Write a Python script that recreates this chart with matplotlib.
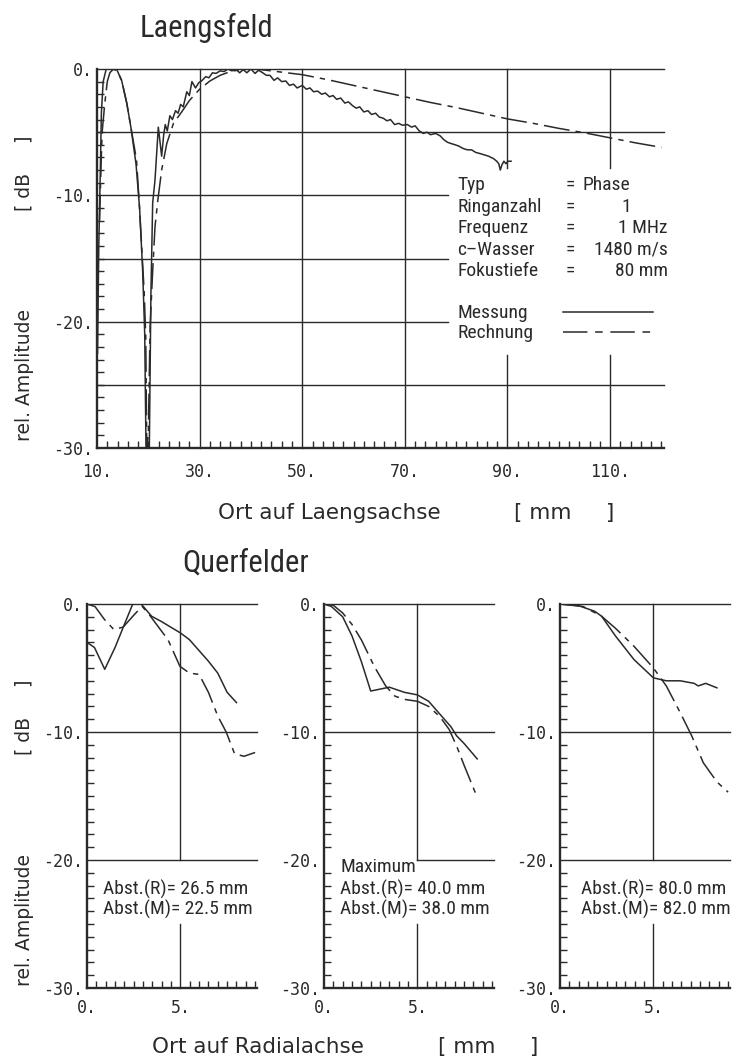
import matplotlib
matplotlib.use("Agg")
import matplotlib.pyplot as plt
from matplotlib import font_manager as fm
from matplotlib.font_manager import FontProperties
from matplotlib.ticker import FixedLocator, MultipleLocator
from matplotlib.lines import Line2D

_names = {f.name for f in fm.fontManager.ttflist}


def _is_regular(f):
    w = f.weight
    try:
        w = int(w)
    except (TypeError, ValueError):
        w = 400 if str(w).lower() in ("normal", "regular", "book") else 700
    return f.style == "normal" and 350 <= w <= 450


def find_narrow():
    prefs = ["Liberation Sans Narrow", "DejaVu Sans Condensed", "Roboto Condensed",
             "Open Sans Condensed", "Noto Sans Condensed"]
    cands = []
    for f in fm.fontManager.ttflist:
        cond = ("Narrow" in f.name or "Condensed" in f.name or
                str(f.stretch) in ("condensed", "semi-condensed", "extra-condensed", "ultra-condensed"))
        if cond and _is_regular(f):
            cands.append(f)
    for p in prefs:
        for f in cands:
            if f.name == p or p in f.fname.replace("-", " "):
                return f.fname
    if cands:
        return cands[0].fname
    return None


_narrow_path = find_narrow()


def NFP(size):
    if _narrow_path:
        return FontProperties(fname=_narrow_path, size=size)
    fam = "Liberation Sans" if "Liberation Sans" in _names else "DejaVu Sans"
    return FontProperties(family=fam, size=size * 0.88)


MONO = "DejaVu Sans Mono"
SANS = "DejaVu Sans"
INK = "#2a2a2a"

# ---------------- data: Laengsfeld (axial field) ----------------
laengs_mess_x = [10.1, 10.35, 10.65, 10.85, 11.2, 11.8, 12.5, 13.8, 14.8, 15.8, 16.6, 17.6, 18.3,
                 18.9, 19.3, 19.55, 20.2, 20.5, 20.85, 21.3, 21.95, 22.6, 23.0, 23.3, 23.7, 24.2,
                 24.7, 25.3, 25.8, 26.3, 26.8, 27.5, 28.0, 28.5, 29.2, 29.8, 30.5, 31.2, 31.8,
                 32.5, 33.2, 34.0, 34.8, 35.5, 36.3, 37.0, 37.8, 38.5, 39.2, 40.0, 40.8, 41.5,
                 42.3, 43.0, 43.7, 44.5, 45.2, 46.0, 46.8, 47.5, 48.3, 49.0, 50.0, 50.8, 51.5,
                 52.2, 53.0, 53.8, 54.5, 55.3, 56.0, 56.7, 57.5, 58.3, 59.0, 59.8, 60.5, 61.2,
                 62.0, 62.8, 63.5, 64.3, 65.0, 65.8, 66.5, 67.2, 68.0, 68.8, 69.5, 70.5, 71.3,
                 72.0, 72.8, 73.6, 74.3, 75.0, 76.0, 76.9, 77.6, 78.3, 79.0, 79.8, 80.5, 81.4,
                 82.2, 83.0, 83.8, 84.7, 85.5, 86.3, 87.3, 87.9, 88.3, 88.6, 88.9, 89.3, 89.7,
                 90.1, 90.7]
laengs_mess_db = [-22.5, -14.0, -8.0, -3.5, -1.0, 0.0, 0.0, 0.0, -0.9, -2.7, -4.6, -7.5, -11.0,
                  -16.0, -21.0, -30.0, -30.0, -18.0, -10.6, -8.8, -4.6, -6.9, -5.2, -4.4, -4.9, -3.7,
                  -4.0, -3.3, -3.5, -2.8, -3.0, -1.8, -2.1, -1.0, -1.5, -1.1, -0.9, -0.6, -0.7,
                  -0.3, -0.35, -0.15, -0.2, 0.0, -0.15, 0.0, -0.3, -0.05, -0.3, 0.0, -0.35, -0.1,
                  -0.3, -0.5, -0.5, -0.9, -0.7, -1.0, -0.95, -1.3, -1.2, -1.5, -1.3, -1.6, -1.5,
                  -1.8, -1.75, -2.0, -1.9, -2.2, -2.1, -2.4, -2.3, -2.7, -2.6, -2.9, -3.1, -3.0,
                  -3.4, -3.3, -3.6, -3.5, -3.8, -3.9, -4.1, -4.0, -4.4, -4.3, -4.45, -4.4, -4.6,
                  -4.5, -4.9, -5.1, -5.0, -5.2, -5.1, -5.3, -5.6, -5.8, -5.9, -6.0, -6.1, -6.3,
                  -6.4, -6.4, -6.6, -6.7, -6.8, -6.9, -7.1, -7.3, -7.5, -8.0, -7.6, -7.3, -7.5,
                  -7.3, -7.3]

laengs_rech_x = [10.5, 10.8, 11.0, 11.5, 12.0, 12.5, 13.2, 14.0, 14.8, 15.8, 16.6, 17.7, 18.2,
                 18.7, 19.2, 19.5, 19.7, 20.0, 20.35, 20.8, 21.3, 21.85, 22.6, 23.6, 24.9, 26.5,
                 28.0, 30.0, 32.0, 34.0, 36.0, 38.0, 40.0, 42.0, 44.0, 46.0, 48.0, 50.0, 55.0,
                 60.0, 65.0, 70.0, 75.0, 80.0, 85.0, 90.0, 95.0, 100.0, 105.0, 110.0, 115.0, 120.0]
laengs_rech_db = [-12.0, -7.5, -5.0, -2.8, -1.0, -0.3, 0.0, -0.2, -0.9, -2.7, -4.6, -7.2, -10.4,
                  -14.0, -17.7, -21.2, -30.0, -29.0, -20.4, -16.4, -12.5, -10.4, -8.0, -5.9, -4.3, -3.4,
                  -2.5, -1.6, -0.95, -0.5, -0.2, -0.05, 0.0, -0.05, -0.15, -0.25, -0.35, -0.45, -0.85,
                  -1.3, -1.75, -2.2, -2.65, -3.05, -3.5, -3.95, -4.3, -4.7, -5.05, -5.45, -5.85, -6.2]

laengs_xticks = [10, 30, 50, 70, 90, 110]
laengs_xticklabels = ["10.", "30.", "50.", "70.", "90.", "110."]
db_ticks = [0, -10, -20, -30]
db_ticklabels = ["0.", "-10.", "-20.", "-30."]

# ---------------- data: Querfelder (radial fields) ----------------
q1_mess_x = [0.0, 0.4, 0.95, 1.5, 2.0, 2.45, 2.9, 3.46, 3.96, 5.0, 5.48, 6.5, 7.0, 7.5, 8.0]
q1_mess_db = [-3.0, -3.4, -5.1, -3.4, -1.6, 0.0, 0.0, -0.96, -1.35, -2.26, -2.78, -4.47, -5.4, -6.9, -7.7]
q1_rech_x = [0.0, 0.43, 0.93, 1.44, 1.94, 2.45, 2.95, 3.33, 4.34, 4.97, 5.48, 6.0, 6.5, 7.0, 7.45, 7.9, 8.4, 9.0]
q1_rech_db = [0.0, -0.2, -1.2, -2.0, -1.8, -0.96, -0.18, -0.83, -2.8, -4.86, -5.4, -5.5, -6.9, -8.75, -10.0, -11.7, -11.9, -11.6]

q2_mess_x = [0.0, 0.4, 1.0, 1.5, 2.0, 2.5, 3.5, 4.3, 5.0, 5.6, 6.2, 6.8, 7.1, 7.5, 8.2]
q2_mess_db = [0.0, -0.2, -1.0, -2.5, -4.5, -6.8, -6.5, -6.9, -7.1, -7.6, -8.6, -9.6, -10.3, -10.9, -12.1]
q2_rech_x = [0.0, 0.5, 1.0, 1.5, 2.0, 2.7, 3.3, 3.8, 4.3, 5.0, 5.6, 6.2, 6.7, 7.1, 7.5, 8.2]
q2_rech_db = [0.0, -0.1, -0.7, -1.6, -2.8, -4.9, -6.4, -7.2, -7.45, -7.6, -8.0, -8.8, -9.8, -11.1, -12.6, -15.1]

q3_mess_x = [0.0, 1.0, 1.86, 2.23, 2.97, 3.96, 5.0, 5.69, 6.44, 7.18, 7.4, 7.8, 8.4]
q3_mess_db = [0.0, -0.13, -0.57, -0.96, -2.5, -4.34, -5.77, -6.0, -6.0, -6.2, -6.4, -6.2, -6.55]
q3_rech_x = [0.0, 1.24, 2.23, 2.97, 3.96, 5.0, 5.69, 6.44, 7.05, 7.67, 8.4, 9.0]
q3_rech_db = [0.0, -0.2, -0.96, -1.9, -3.3, -5.0, -6.4, -8.5, -10.3, -12.4, -13.9, -14.7]

quer_xticks = [0, 5]
quer_xticklabels = ["0.", "5."]
quer_notes = [["Abst.(R)= 26.5 mm", "Abst.(M)= 22.5 mm"],
              ["Maximum", "Abst.(R)= 40.0 mm", "Abst.(M)= 38.0 mm"],
              ["Abst.(R)= 80.0 mm", "Abst.(M)= 82.0 mm"]]

info_keys = ["Typ", "Ringanzahl", "Frequenz", "c\u2013Wasser", "Fokustiefe"]
info_vals = ["Phase", "1", "1 MHz", "1480 m/s", "80 mm"]

# ---------------- figure ----------------
W, H = 741, 1061
fig = plt.figure(figsize=(W / 100, H / 100), dpi=100)
fig.patch.set_facecolor("white")


def fx(px):
    return px / W


def fy(py):
    return 1 - py / H


def add_px_axes(l, t, r, b):
    return fig.add_axes([fx(l), fy(b), (r - l) / W, (b - t) / H])


RECH_DASH = (17, 4, 3.5, 4)


def style(ax, xlim, xticks, xlabels, xminor, xpad):
    ax.set_xlim(*xlim)
    ax.set_ylim(-30, 0)
    ax.set_facecolor("none")
    for s in ("top", "right"):
        ax.spines[s].set_visible(False)
    for s in ("left", "bottom"):
        ax.spines[s].set_linewidth(1.7)
        ax.spines[s].set_color(INK)
    ax.xaxis.set_major_locator(FixedLocator(xticks))
    ax.set_xticklabels(xlabels)
    ax.xaxis.set_minor_locator(MultipleLocator(xminor))
    ax.yaxis.set_major_locator(FixedLocator(db_ticks))
    ax.set_yticklabels(db_ticklabels)
    ax.yaxis.set_minor_locator(MultipleLocator(1))
    ax.tick_params(which="major", length=0, colors=INK, labelsize=12)
    ax.tick_params(axis="x", which="major", pad=xpad)
    ax.tick_params(axis="y", which="major", pad=3)
    ax.tick_params(which="minor", direction="in", length=5, width=1.0, color=INK)
    for lab in ax.get_xticklabels() + ax.get_yticklabels():
        lab.set_fontfamily(MONO)


def seg_h(ax, y, x0, x1):
    ax.plot([x0, x1], [y, y], color=INK, lw=1.0, clip_on=False, zorder=1)


def seg_v(ax, x, y0, y1):
    ax.plot([x, x], [y0, y1], color=INK, lw=1.0, clip_on=False, zorder=1)


def ntext(px, py, s, size, **kw):
    fig.text(fx(px), fy(py), s, fontproperties=NFP(size), color=INK, va="center", **kw)


# ---- top: Laengsfeld ----
ax = add_px_axes(97, 69, 664, 448)
style(ax, (10, 120.5), laengs_xticks, laengs_xticklabels, 2, 11)
XR = 120.5
seg_h(ax, 0, 10, XR)
seg_h(ax, -5, 10, XR)
for yy in (-10, -15, -20):
    seg_h(ax, yy, 10, 78.5)
seg_h(ax, -25, 10, XR)
for xx in (30, 50, 70):
    seg_v(ax, xx, -30, 0)
for xx in (90, 110):
    seg_v(ax, xx, -30, -22.6)
    seg_v(ax, xx, -7.8, 0)

ax.plot(laengs_mess_x, laengs_mess_db, color=INK, lw=1.1, zorder=3)
ax.plot(laengs_rech_x, laengs_rech_db, color=INK, lw=1.1, dashes=RECH_DASH, zorder=3)

# info block
row_y = [185, 206.5, 228, 249.5, 271]
for k, yy in zip(info_keys, row_y):
    ntext(457, yy, k, 14, ha="left")
    ntext(566, yy, "=", 14, ha="left")
ntext(583, row_y[0], info_vals[0], 14, ha="left")
ntext(626, row_y[1], info_vals[1], 14, ha="center")
for v, yy in zip(info_vals[2:], row_y[2:]):
    ntext(668, yy, v, 14, ha="right")

ntext(457, 313, "Messung", 14, ha="left")
ntext(457, 333, "Rechnung", 14, ha="left")
fig.add_artist(Line2D([fx(563), fx(653)], [fy(312), fy(312)], color=INK, lw=1.1))
fig.add_artist(Line2D([fx(563), fx(657)], [fy(332), fy(332)], color=INK, lw=1.1, dashes=(16, 5, 5, 5)))

# titles and axis labels
ntext(140, 28, "Laengsfeld", 22, ha="left")
ntext(182, 563, "Querfelder", 22, ha="left")

for yc_db, yc_amp in ((173, 375), (717, 920)):
    fig.text(fx(24), fy(yc_db), "[ dB     ]", family=SANS, fontsize=13.5, color=INK, rotation=90,
             ha="center", va="center")
    fig.text(fx(24), fy(yc_amp), "rel. Amplitude", family=SANS, fontsize=13.5, color=INK, rotation=90,
             ha="center", va="center")

fig.text(fx(218), fy(513), "Ort auf Laengsachse", family=SANS, fontsize=15.5, color=INK, ha="left", va="center")
fig.text(fx(514), fy(513), "[ mm     ]", family=SANS, fontsize=15.5, color=INK, ha="left", va="center")
fig.text(fx(152), fy(1047), "Ort auf Radialachse", family=SANS, fontsize=15.5, color=INK, ha="left", va="center")
fig.text(fx(438), fy(1047), "[ mm     ]", family=SANS, fontsize=15.5, color=INK, ha="left", va="center")

# ---- bottom: Querfelder ----
panel_px = [(87, 257), (324, 494), (560, 730)]
quer_data = [(q1_mess_x, q1_mess_db, q1_rech_x, q1_rech_db),
             (q2_mess_x, q2_mess_db, q2_rech_x, q2_rech_db),
             (q3_mess_x, q3_mess_db, q3_rech_x, q3_rech_db)]
note_x = [103, 340, 581]
for i, ((l, r), (mx, my, rx, ry)) in enumerate(zip(panel_px, quer_data)):
    a = add_px_axes(l, 604, r, 988)
    style(a, (0, 9.1), quer_xticks, quer_xticklabels, 0.5, 8)
    seg_h(a, 0, 0, 9.1)
    seg_h(a, -10, 0, 9.1)
    if i == 1:
        seg_h(a, -20, 5, 9.1)
    else:
        seg_h(a, -20, 0, 9.1)
    seg_v(a, 5, -30, -25)
    seg_v(a, 5, -20, 0)
    a.plot(mx, my, color=INK, lw=1.1, zorder=3)
    a.plot(rx, ry, color=INK, lw=1.1, dashes=RECH_DASH, zorder=3)
    notes = quer_notes[i]
    ys = [889, 909] if len(notes) == 2 else [867, 889, 909]
    for s, yy in zip(notes, ys):
        ntext(note_x[i], yy, s, 14, ha="left")

fig.savefig("out.png", dpi=100, facecolor="white")
